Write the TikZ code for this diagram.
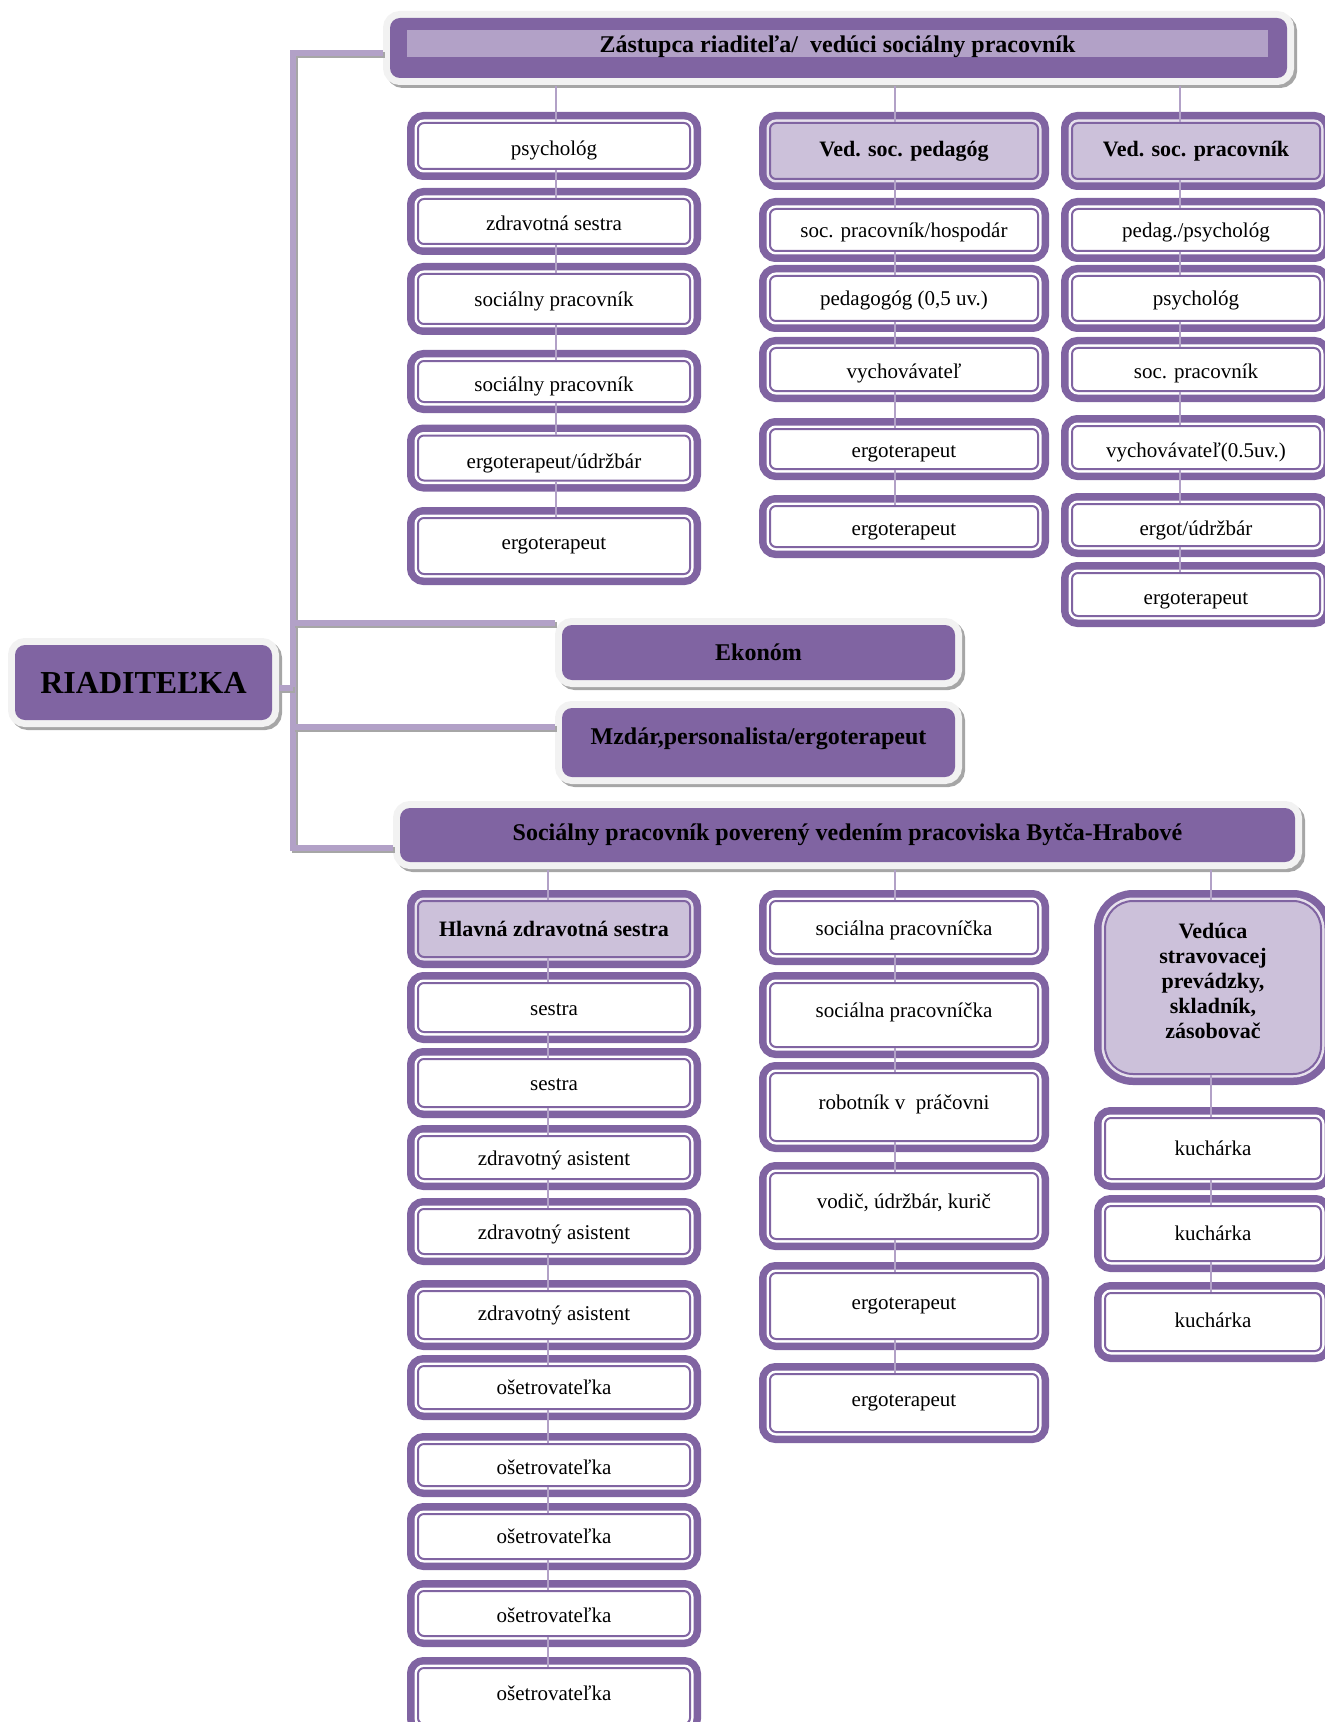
\documentclass[tikz,border=0pt]{standalone}
\usepackage{fontspec}
\setmainfont{Liberation Serif}
\usetikzlibrary{positioning}
\definecolor{purp}{HTML}{8064A2}
\definecolor{lilac}{HTML}{CCC1DA}
\definecolor{lav}{HTML}{B2A1C7}
\definecolor{rim}{HTML}{F2F2F2}
\definecolor{shade}{HTML}{A6A6A6}
\newcommand{\lowr}[2]{\raisebox{-#1}[\height][\depth]{#2}}
\tikzset{
  head/.style={fill=purp, rounded corners=5pt, inner sep=0pt,
    font=\fontsize{12}{14}\selectfont\bfseries,
    preaction={draw=shade, line width=7pt, transform canvas={shift={(1.5pt,-1.5pt)}}},
    preaction={draw=rim, line width=7pt}},
  ring/.style={draw=purp, line width=1pt, rounded corners=3pt, inner sep=1pt,
    preaction={draw=purp, line width=11pt}, preaction={draw=#1, line width=3.5pt}},
  job/.style={ring=white, fill=white, font=\fontsize{10.5}{12}\selectfont},
  jobhead/.style={ring=lilac!50!white, fill=lilac, font=\fontsize{11}{13}\selectfont\bfseries},
  colL/.style={minimum width=136pt},
  colM/.style={minimum width=134pt},
  colR/.style={minimum width=124pt},
  colK/.style={minimum width=108pt},
  link/.style={draw=lav, line width=1pt},
  trunk/.style={draw=lav, line width=3pt,
    preaction={draw=shade, line width=3pt, transform canvas={shift={(1pt,-1pt)}}}},
}
\begin{document}
\begin{tikzpicture}[x=0.5pt, y=-0.5pt]
\useasboundingbox (0,0) rectangle (1325,1722);

% top level
\node[head, minimum width=128.5pt, minimum height=37.5pt, font=\fontsize{16}{18}\selectfont\bfseries] (riad) at (143.5,682.5) {RIADITEĽKA};
\node[head, minimum width=448.5pt, minimum height=30pt] (zast) at (838.5,48) {};
\node[fill=lav, minimum width=430.5pt, minimum height=13.5pt, inner sep=0pt, font=\fontsize{12}{14}\selectfont\bfseries] (zbar) at (837.5,43.5) {\lowr{1.5pt}{Zástupca riaditeľa/\ \ vedúci sociálny pracovník}};
\node[head, minimum width=196.5pt, minimum height=27.5pt] (ekon) at (758.5,652.5) {Ekonóm};
\node[head, minimum width=196.5pt, minimum height=34.5pt] (mzdar) at (758.5,742.5) {\lowr{-2pt}{Mzdár,personalista/ergoterapeut}};
\node[head, minimum width=447.5pt, minimum height=27pt] (soc) at (847.5,835) {Sociálny pracovník poverený vedením pracoviska Bytča-Hrabové};

% under zastupca, left
\node[job, colL, minimum height=23pt]   (t1) at (554,146)   {\lowr{2pt}{psychológ}};
\node[job, colL, minimum height=22.5pt] (t2) at (554,221.5) {\lowr{1pt}{zdravotná sestra}};
\node[job, colL, minimum height=25pt]   (t3) at (554,299)   {\lowr{1pt}{sociálny pracovník}};
\node[job, colL, minimum height=20.5pt] (t4) at (554,381.5) {\lowr{2.5pt}{sociálny pracovník}};
\node[job, colL, minimum height=22.5pt] (t5) at (554,458)   {\lowr{2.5pt}{ergoterapeut/údržbár}};
\node[job, colL, minimum height=28pt]   (t6) at (554,546)   {ergoterapeut};

% under zastupca, middle
\node[jobhead, colM, minimum height=28pt] (m1) at (904,151)   {Ved. soc. pedagóg};
\node[job, colM, minimum height=21pt]     (m2) at (904,230)   {\lowr{1pt}{soc. pracovník/hospodár}};
\node[job, colM, minimum height=22.5pt]   (m3) at (904,298.5) {\lowr{1pt}{pedagogóg (0,5 uv.)}};
\node[job, colM, minimum height=21.5pt]   (m4) at (904,369.5) {\lowr{2pt}{vychovávateľ}};
\node[job, colM, minimum height=20pt]     (m5) at (904,449)   {\lowr{2.5pt}{ergoterapeut}};
\node[job, colM, minimum height=20.5pt]   (m6) at (904,526.5) {\lowr{2.5pt}{ergoterapeut}};

% under zastupca, right
\node[jobhead, colR, minimum height=28pt] (r1) at (1196,151)   {Ved. soc. pracovník};
\node[job, colR, minimum height=21pt]     (r2) at (1196,230)   {\lowr{1pt}{pedag./psychológ}};
\node[job, colR, minimum height=22.5pt]   (r3) at (1196,298.5) {\lowr{1pt}{psychológ}};
\node[job, colR, minimum height=21.5pt]   (r4) at (1196,369.5) {\lowr{2pt}{soc. pracovník}};
\node[job, colR, minimum height=21.5pt]   (r5) at (1196,447.5) {\lowr{2.5pt}{vychovávateľ(0.5uv.)}};
\node[job, colR, minimum height=21pt]     (r6) at (1196,525)   {\lowr{2.5pt}{ergot/údržbár}};
\node[job, colR, minimum height=21.5pt]   (r7) at (1196,594.5) {\lowr{3pt}{ergoterapeut}};

% Bytca-Hrabove, left
\node[jobhead, colL, minimum height=28pt] (b1) at (554,929)    {Hlavná zdravotná sestra};
\node[job, colL, minimum height=24.5pt]   (b2) at (554,1007.5) {\lowr{1pt}{sestra}};
\node[job, colL, minimum height=24pt]     (b3) at (554,1083)   {\lowr{1pt}{sestra}};
\node[job, colL, minimum height=21.5pt]   (b4) at (554,1157.5) {\lowr{1.5pt}{zdravotný asistent}};
\node[job, colL, minimum height=22.5pt]   (b5) at (554,1231.5) {\lowr{1.5pt}{zdravotný asistent}};
\node[job, colL, minimum height=24pt]     (b6) at (554,1315)   {zdravotný asistent};
\node[job, colL, minimum height=21.5pt]   (b7) at (554,1387.5) {ošetrovateľka};
\node[job, colL, minimum height=21pt]     (b8) at (554,1465)   {\lowr{1pt}{ošetrovateľka}};
\node[job, colL, minimum height=22.5pt]   (b9) at (554,1536.5) {ošetrovateľka};
\node[job, colL, minimum height=22.5pt]   (b10) at (554,1613.5) {\lowr{1pt}{ošetrovateľka}};
\node[job, colL, minimum height=28pt]     (b11) at (554,1696)   {\lowr{-1.5pt}{ošetrovateľka}};

% Bytca-Hrabove, middle
\node[job, colM, minimum height=26.5pt] (c1) at (904,927.5) {\lowr{1.5pt}{sociálna pracovníčka}};
\node[job, colM, minimum height=32pt]   (c2) at (904,1015)  {\lowr{-1.5pt}{sociálna pracovníčka}};
\node[job, colM, minimum height=34pt]   (c3) at (904,1107)  {\lowr{-1.5pt}{robotník v\ \ práčovni}};
\node[job, colM, minimum height=33pt]   (c4) at (904,1206)  {\lowr{-1.5pt}{vodič, údržbár, kurič}};
\node[job, colM, minimum height=33pt]   (c5) at (904,1306)  {ergoterapeut};
\node[job, colM, minimum height=29pt]   (c6) at (904,1403)  {ergoterapeut};

% Bytca-Hrabove, right
\node[jobhead, colK, minimum height=86.5pt, rounded corners=14pt, font=\fontsize{11}{12.5}\selectfont\bfseries] (k0) at (1213,987.5) {\lowr{-2pt}{\begin{tabular}{@{}c@{}}Vedúca\\stravovacej\\prevádzky,\\skladník,\\zásobovač\end{tabular}}};
\node[job, colK, minimum height=30.5pt] (k1) at (1213,1148.5) {kuchárka};
\node[job, colK, minimum height=27.5pt] (k2) at (1213,1233.5) {kuchárka};
\node[job, colK, minimum height=29pt]   (k3) at (1213,1322)   {\lowr{-1pt}{kuchárka}};

% columns
\coordinate (xa) at (556,0); \coordinate (xb) at (895,0); \coordinate (xc) at (1180,0);
\coordinate (xd) at (548,0); \coordinate (xe) at (895,0); \coordinate (xf) at (1211,0);
\draw[link] ([yshift=-4pt]zast.south -| xa) -- (t1.north -| xa);
\draw[link] ([yshift=-4pt]zast.south -| xb) -- (m1.north -| xb);
\draw[link] ([yshift=-4pt]zast.south -| xc) -- (r1.north -| xc);
\draw[link] ([yshift=-4pt]soc.south -| xd) -- (b1.north -| xd);
\draw[link] ([yshift=-4pt]soc.south -| xe) -- (c1.north -| xe);
\draw[link] ([yshift=-4pt]soc.south -| xf) -- (k0.north -| xf);
\foreach \a/\b in {t1/t2,t2/t3,t3/t4,t4/t5,t5/t6}
  \draw[link] (\a.south -| xa) -- (\b.north -| xa);
\foreach \a/\b in {m1/m2,m2/m3,m3/m4,m4/m5,m5/m6}
  \draw[link] (\a.south -| xb) -- (\b.north -| xb);
\foreach \a/\b in {r1/r2,r2/r3,r3/r4,r4/r5,r5/r6,r6/r7}
  \draw[link] (\a.south -| xc) -- (\b.north -| xc);
\foreach \a/\b in {b1/b2,b2/b3,b3/b4,b4/b5,b5/b6,b6/b7,b7/b8,b8/b9,b9/b10,b10/b11}
  \draw[link] (\a.south -| xd) -- (\b.north -| xd);
\foreach \a/\b in {c1/c2,c2/c3,c3/c4,c4/c5,c5/c6}
  \draw[link] (\a.south -| xe) -- (\b.north -| xe);
\foreach \a/\b in {k0/k1,k1/k2,k2/k3}
  \draw[link] (\a.south -| xf) -- (\b.north -| xf);

% trunk
\coordinate (tr) at (293,0);
\coordinate (tz) at ([xshift=-3.5pt,yshift=-2.5pt]zast.west);
\coordinate (te) at ([xshift=-3.5pt,yshift=1pt]ekon.north west);
\coordinate (tm) at ([xshift=-3.5pt,yshift=8pt]mzdar.west);
\coordinate (ts) at ([xshift=-3.5pt,yshift=-6.5pt]soc.west);
\draw[trunk] (tz) -| (ts -| tr) -- (ts);
\draw[trunk] (te) -- (te -| tr);
\draw[trunk] (tm) -- (tm -| tr);
\draw[trunk] ([xshift=3.5pt,yshift=-2.5pt]riad.east) -- ([yshift=-2.5pt]riad.east -| tr);
\end{tikzpicture}
\end{document}
